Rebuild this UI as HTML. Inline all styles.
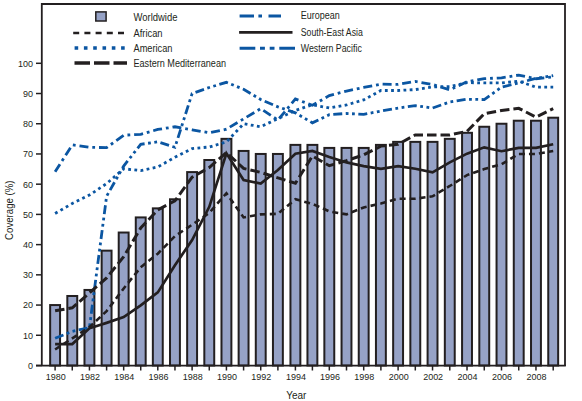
<!DOCTYPE html><html><head><meta charset="utf-8"><style>html,body{margin:0;padding:0;background:#fff;width:582px;height:401px;overflow:hidden}svg{display:block}text{font-family:"Liberation Sans",sans-serif;fill:#231f20}</style></head><body>
<svg width="582" height="401" viewBox="0 0 582 401">
<rect x="50.15" y="305.06" width="9.90" height="60.44" fill="#96a2c6" stroke="#231f20" stroke-width="2"/>
<rect x="67.32" y="295.99" width="9.90" height="69.51" fill="#96a2c6" stroke="#231f20" stroke-width="2"/>
<rect x="84.48" y="289.95" width="9.90" height="75.55" fill="#96a2c6" stroke="#231f20" stroke-width="2"/>
<rect x="101.65" y="250.66" width="9.90" height="114.84" fill="#96a2c6" stroke="#231f20" stroke-width="2"/>
<rect x="118.72" y="232.53" width="9.90" height="132.97" fill="#96a2c6" stroke="#231f20" stroke-width="2"/>
<rect x="135.78" y="217.42" width="9.90" height="148.08" fill="#96a2c6" stroke="#231f20" stroke-width="2"/>
<rect x="152.85" y="208.36" width="9.90" height="157.14" fill="#96a2c6" stroke="#231f20" stroke-width="2"/>
<rect x="170.01" y="199.29" width="9.90" height="166.21" fill="#96a2c6" stroke="#231f20" stroke-width="2"/>
<rect x="187.16" y="172.09" width="9.90" height="193.41" fill="#96a2c6" stroke="#231f20" stroke-width="2"/>
<rect x="204.32" y="160.00" width="9.90" height="205.50" fill="#96a2c6" stroke="#231f20" stroke-width="2"/>
<rect x="221.48" y="138.85" width="9.90" height="226.65" fill="#96a2c6" stroke="#231f20" stroke-width="2"/>
<rect x="238.64" y="150.94" width="9.90" height="214.56" fill="#96a2c6" stroke="#231f20" stroke-width="2"/>
<rect x="255.79" y="153.96" width="9.90" height="211.54" fill="#96a2c6" stroke="#231f20" stroke-width="2"/>
<rect x="272.95" y="153.96" width="9.90" height="211.54" fill="#96a2c6" stroke="#231f20" stroke-width="2"/>
<rect x="290.45" y="144.89" width="9.90" height="220.61" fill="#96a2c6" stroke="#231f20" stroke-width="2"/>
<rect x="307.45" y="144.89" width="9.90" height="220.61" fill="#96a2c6" stroke="#231f20" stroke-width="2"/>
<rect x="324.35" y="147.92" width="9.90" height="217.58" fill="#96a2c6" stroke="#231f20" stroke-width="2"/>
<rect x="341.55" y="147.92" width="9.90" height="217.58" fill="#96a2c6" stroke="#231f20" stroke-width="2"/>
<rect x="358.75" y="147.92" width="9.90" height="217.58" fill="#96a2c6" stroke="#231f20" stroke-width="2"/>
<rect x="375.95" y="144.89" width="9.90" height="220.61" fill="#96a2c6" stroke="#231f20" stroke-width="2"/>
<rect x="393.15" y="141.87" width="9.90" height="223.63" fill="#96a2c6" stroke="#231f20" stroke-width="2"/>
<rect x="410.35" y="141.87" width="9.90" height="223.63" fill="#96a2c6" stroke="#231f20" stroke-width="2"/>
<rect x="427.59" y="141.87" width="9.90" height="223.63" fill="#96a2c6" stroke="#231f20" stroke-width="2"/>
<rect x="444.83" y="138.85" width="9.90" height="226.65" fill="#96a2c6" stroke="#231f20" stroke-width="2"/>
<rect x="462.07" y="132.81" width="9.90" height="232.69" fill="#96a2c6" stroke="#231f20" stroke-width="2"/>
<rect x="479.31" y="126.76" width="9.90" height="238.74" fill="#96a2c6" stroke="#231f20" stroke-width="2"/>
<rect x="496.55" y="123.74" width="9.90" height="241.76" fill="#96a2c6" stroke="#231f20" stroke-width="2"/>
<rect x="513.78" y="120.72" width="9.90" height="244.78" fill="#96a2c6" stroke="#231f20" stroke-width="2"/>
<rect x="531.02" y="120.72" width="9.90" height="244.78" fill="#96a2c6" stroke="#231f20" stroke-width="2"/>
<rect x="548.25" y="117.70" width="9.90" height="247.80" fill="#96a2c6" stroke="#231f20" stroke-width="2"/>
<polyline points="55.10,213.49 72.27,203.52 89.43,195.06 106.60,183.58 123.67,168.77 140.73,170.58 157.80,166.95 174.96,157.28 192.11,148.52 209.27,147.01 226.43,141.87 243.59,123.74 260.74,126.76 277.90,118.60 295.40,110.44 312.40,104.70 329.30,108.03 346.50,105.00 363.70,99.87 380.90,90.50 398.10,90.50 415.30,89.59 432.54,86.87 449.78,86.57 467.02,82.64 484.26,82.94 501.50,82.94 518.73,81.13 535.97,87.17 553.20,87.17" fill="none" stroke="#0b56a2" stroke-width="2.8" stroke-dasharray="2.8 3.4" stroke-linejoin="miter"/>
<polyline points="55.10,171.79 72.27,144.89 89.43,147.31 106.60,147.61 123.67,135.22 140.73,134.32 157.80,129.48 174.96,126.76 192.11,129.78 209.27,132.81 226.43,129.18 243.59,118.90 260.74,108.63 277.90,120.11 295.40,98.96 312.40,105.31 329.30,95.64 346.50,91.10 363.70,87.48 380.90,84.15 398.10,84.45 415.30,81.43 432.54,84.45 449.78,89.89 467.02,81.73 484.26,78.71 501.50,77.81 518.73,75.09 535.97,78.71 553.20,76.90" fill="none" stroke="#0b56a2" stroke-width="2.8" stroke-dasharray="9 3.9 2.8 3.9" stroke-linejoin="miter"/>
<polyline points="55.10,338.30 72.27,331.35 89.43,327.73 106.60,196.27 123.67,166.05 140.73,144.29 157.80,141.87 174.96,147.31 192.11,93.52 209.27,87.48 226.43,82.34 243.59,89.29 260.74,99.56 277.90,106.82 295.40,112.86 312.40,122.83 329.30,114.67 346.50,113.47 363.70,114.37 380.90,111.05 398.10,108.03 415.30,105.61 432.54,108.03 449.78,101.98 467.02,99.26 484.26,99.56 501.50,87.17 518.73,82.94 535.97,78.41 553.20,75.69" fill="none" stroke="#0b56a2" stroke-width="2.8" stroke-dasharray="9 3.5 2.8 3.5 2.8 3.5" stroke-linejoin="miter"/>
<polyline points="55.10,349.48 72.27,338.30 89.43,327.12 106.60,311.10 123.67,288.44 140.73,267.29 157.80,253.69 174.96,236.16 192.11,224.67 209.27,212.89 226.43,193.25 243.59,217.42 260.74,214.40 277.90,213.80 295.40,199.29 312.40,203.82 329.30,211.38 346.50,214.40 363.70,207.45 380.90,203.52 398.10,198.69 415.30,198.69 432.54,196.27 449.78,185.99 467.02,175.11 484.26,169.07 501.50,164.23 518.73,153.96 535.97,153.96 553.20,150.94" fill="none" stroke="#231f20" stroke-width="2.6" stroke-dasharray="6 4" stroke-linejoin="miter"/>
<polyline points="55.10,310.80 72.27,307.78 89.43,292.97 106.60,277.86 123.67,256.71 140.73,228.00 157.80,209.87 174.96,200.80 192.11,177.23 209.27,167.56 226.43,152.45 243.59,168.47 260.74,172.39 277.90,177.83 295.40,183.27 312.40,156.08 329.30,165.75 346.50,160.61 363.70,154.87 380.90,146.10 398.10,144.29 415.30,134.92 432.54,134.92 449.78,134.92 467.02,131.30 484.26,113.77 501.50,110.44 518.73,108.33 535.97,117.09 553.20,108.63" fill="none" stroke="#231f20" stroke-width="3" stroke-dasharray="9.5 4" stroke-linejoin="miter"/>
<polyline points="55.10,344.04 72.27,344.04 89.43,328.33 106.60,322.89 123.67,317.15 140.73,305.36 157.80,292.37 174.96,265.17 192.11,240.09 209.27,206.84 226.43,153.36 243.59,179.95 260.74,183.58 277.90,169.98 295.40,153.66 312.40,150.94 329.30,156.98 346.50,162.42 363.70,166.05 380.90,168.77 398.10,166.05 415.30,168.77 432.54,172.39 449.78,162.42 467.02,153.66 484.26,147.31 501.50,151.24 518.73,147.92 535.97,147.92 553.20,144.29" fill="none" stroke="#231f20" stroke-width="2.7" stroke-linejoin="miter"/>
<path d="M41.8,366 L41.8,4 L565,4 L565,366" fill="none" stroke="#231f20" stroke-width="1.8"/>
<path d="M36,365.6 L565.8,365.6" stroke="#231f20" stroke-width="1.8"/>
<path d="M36,365.50 L42,365.50" stroke="#231f20" stroke-width="1.5"/>
<text x="33" y="368.90" font-size="9.6" text-anchor="end" textLength="5.0" lengthAdjust="spacingAndGlyphs">0</text>
<path d="M36,335.28 L42,335.28" stroke="#231f20" stroke-width="1.5"/>
<text x="33" y="338.68" font-size="9.6" text-anchor="end" textLength="10.0" lengthAdjust="spacingAndGlyphs">10</text>
<path d="M36,305.06 L42,305.06" stroke="#231f20" stroke-width="1.5"/>
<text x="33" y="308.46" font-size="9.6" text-anchor="end" textLength="10.0" lengthAdjust="spacingAndGlyphs">20</text>
<path d="M36,274.84 L42,274.84" stroke="#231f20" stroke-width="1.5"/>
<text x="33" y="278.24" font-size="9.6" text-anchor="end" textLength="10.0" lengthAdjust="spacingAndGlyphs">30</text>
<path d="M36,244.62 L42,244.62" stroke="#231f20" stroke-width="1.5"/>
<text x="33" y="248.02" font-size="9.6" text-anchor="end" textLength="10.0" lengthAdjust="spacingAndGlyphs">40</text>
<path d="M36,214.40 L42,214.40" stroke="#231f20" stroke-width="1.5"/>
<text x="33" y="217.80" font-size="9.6" text-anchor="end" textLength="10.0" lengthAdjust="spacingAndGlyphs">50</text>
<path d="M36,184.18 L42,184.18" stroke="#231f20" stroke-width="1.5"/>
<text x="33" y="187.58" font-size="9.6" text-anchor="end" textLength="10.0" lengthAdjust="spacingAndGlyphs">60</text>
<path d="M36,153.96 L42,153.96" stroke="#231f20" stroke-width="1.5"/>
<text x="33" y="157.36" font-size="9.6" text-anchor="end" textLength="10.0" lengthAdjust="spacingAndGlyphs">70</text>
<path d="M36,123.74 L42,123.74" stroke="#231f20" stroke-width="1.5"/>
<text x="33" y="127.14" font-size="9.6" text-anchor="end" textLength="10.0" lengthAdjust="spacingAndGlyphs">80</text>
<path d="M36,93.52 L42,93.52" stroke="#231f20" stroke-width="1.5"/>
<text x="33" y="96.92" font-size="9.6" text-anchor="end" textLength="10.0" lengthAdjust="spacingAndGlyphs">90</text>
<path d="M36,63.30 L42,63.30" stroke="#231f20" stroke-width="1.5"/>
<text x="33" y="66.70" font-size="9.6" text-anchor="end" textLength="15.0" lengthAdjust="spacingAndGlyphs">100</text>
<path d="M55.10,366 L55.10,370.5" stroke="#231f20" stroke-width="1.5"/>
<text x="55.70" y="380.3" font-size="9.6" text-anchor="middle" textLength="20" lengthAdjust="spacingAndGlyphs">1980</text>
<path d="M72.27,366 L72.27,370.5" stroke="#231f20" stroke-width="1.5"/>
<path d="M89.43,366 L89.43,370.5" stroke="#231f20" stroke-width="1.5"/>
<text x="90.03" y="380.3" font-size="9.6" text-anchor="middle" textLength="20" lengthAdjust="spacingAndGlyphs">1982</text>
<path d="M106.60,366 L106.60,370.5" stroke="#231f20" stroke-width="1.5"/>
<path d="M123.67,366 L123.67,370.5" stroke="#231f20" stroke-width="1.5"/>
<text x="124.27" y="380.3" font-size="9.6" text-anchor="middle" textLength="20" lengthAdjust="spacingAndGlyphs">1984</text>
<path d="M140.73,366 L140.73,370.5" stroke="#231f20" stroke-width="1.5"/>
<path d="M157.80,366 L157.80,370.5" stroke="#231f20" stroke-width="1.5"/>
<text x="158.40" y="380.3" font-size="9.6" text-anchor="middle" textLength="20" lengthAdjust="spacingAndGlyphs">1986</text>
<path d="M174.96,366 L174.96,370.5" stroke="#231f20" stroke-width="1.5"/>
<path d="M192.11,366 L192.11,370.5" stroke="#231f20" stroke-width="1.5"/>
<text x="192.71" y="380.3" font-size="9.6" text-anchor="middle" textLength="20" lengthAdjust="spacingAndGlyphs">1988</text>
<path d="M209.27,366 L209.27,370.5" stroke="#231f20" stroke-width="1.5"/>
<path d="M226.43,366 L226.43,370.5" stroke="#231f20" stroke-width="1.5"/>
<text x="227.03" y="380.3" font-size="9.6" text-anchor="middle" textLength="20" lengthAdjust="spacingAndGlyphs">1990</text>
<path d="M243.59,366 L243.59,370.5" stroke="#231f20" stroke-width="1.5"/>
<path d="M260.74,366 L260.74,370.5" stroke="#231f20" stroke-width="1.5"/>
<text x="261.34" y="380.3" font-size="9.6" text-anchor="middle" textLength="20" lengthAdjust="spacingAndGlyphs">1992</text>
<path d="M277.90,366 L277.90,370.5" stroke="#231f20" stroke-width="1.5"/>
<path d="M295.40,366 L295.40,370.5" stroke="#231f20" stroke-width="1.5"/>
<text x="296.00" y="380.3" font-size="9.6" text-anchor="middle" textLength="20" lengthAdjust="spacingAndGlyphs">1994</text>
<path d="M312.40,366 L312.40,370.5" stroke="#231f20" stroke-width="1.5"/>
<path d="M329.30,366 L329.30,370.5" stroke="#231f20" stroke-width="1.5"/>
<text x="329.90" y="380.3" font-size="9.6" text-anchor="middle" textLength="20" lengthAdjust="spacingAndGlyphs">1996</text>
<path d="M346.50,366 L346.50,370.5" stroke="#231f20" stroke-width="1.5"/>
<path d="M363.70,366 L363.70,370.5" stroke="#231f20" stroke-width="1.5"/>
<text x="364.30" y="380.3" font-size="9.6" text-anchor="middle" textLength="20" lengthAdjust="spacingAndGlyphs">1998</text>
<path d="M380.90,366 L380.90,370.5" stroke="#231f20" stroke-width="1.5"/>
<path d="M398.10,366 L398.10,370.5" stroke="#231f20" stroke-width="1.5"/>
<text x="398.70" y="380.3" font-size="9.6" text-anchor="middle" textLength="20" lengthAdjust="spacingAndGlyphs">2000</text>
<path d="M415.30,366 L415.30,370.5" stroke="#231f20" stroke-width="1.5"/>
<path d="M432.54,366 L432.54,370.5" stroke="#231f20" stroke-width="1.5"/>
<text x="433.14" y="380.3" font-size="9.6" text-anchor="middle" textLength="20" lengthAdjust="spacingAndGlyphs">2002</text>
<path d="M449.78,366 L449.78,370.5" stroke="#231f20" stroke-width="1.5"/>
<path d="M467.02,366 L467.02,370.5" stroke="#231f20" stroke-width="1.5"/>
<text x="467.62" y="380.3" font-size="9.6" text-anchor="middle" textLength="20" lengthAdjust="spacingAndGlyphs">2004</text>
<path d="M484.26,366 L484.26,370.5" stroke="#231f20" stroke-width="1.5"/>
<path d="M501.50,366 L501.50,370.5" stroke="#231f20" stroke-width="1.5"/>
<text x="502.10" y="380.3" font-size="9.6" text-anchor="middle" textLength="20" lengthAdjust="spacingAndGlyphs">2006</text>
<path d="M518.73,366 L518.73,370.5" stroke="#231f20" stroke-width="1.5"/>
<path d="M535.97,366 L535.97,370.5" stroke="#231f20" stroke-width="1.5"/>
<text x="536.57" y="380.3" font-size="9.6" text-anchor="middle" textLength="20" lengthAdjust="spacingAndGlyphs">2008</text>
<path d="M553.20,366 L553.20,370.5" stroke="#231f20" stroke-width="1.5"/>
<text x="296.3" y="399.2" font-size="10" text-anchor="middle">Year</text>
<text transform="translate(13.2,210.2) rotate(-90)" x="0" y="0" font-size="10" text-anchor="middle" textLength="59.5" lengthAdjust="spacingAndGlyphs">Coverage (%)</text>
<rect x="95.8" y="11.9" width="10.3" height="9.1" fill="#96a2c6" stroke="#231f20" stroke-width="1.5"/>
<path d="M73.2,33 L124.5,33" stroke="#231f20" stroke-width="2.6" stroke-dasharray="6 5.2"/>
<path d="M74.6,48 L125.5,48" stroke="#0b56a2" stroke-width="3.4" stroke-dasharray="3.6 5.7"/>
<path d="M74.5,63 L127,63" stroke="#231f20" stroke-width="3.4" stroke-dasharray="15.5 4"/>
<path d="M239.6,15.9 L281,15.9" stroke="#0b56a2" stroke-width="3" stroke-dasharray="14.4 4.4 3.6 6.5"/>
<path d="M239.1,32.4 L292.5,32.4" stroke="#231f20" stroke-width="2.8"/>
<path d="M239.6,48.3 L295,48.3" stroke="#0b56a2" stroke-width="3" stroke-dasharray="15.7 4.7 4.9 4.8 4.8 4.8"/>
<text x="133.5" y="21.0" font-size="10" textLength="44.0" lengthAdjust="spacingAndGlyphs">Worldwide</text>
<text x="133.5" y="36.8" font-size="10" textLength="29.0" lengthAdjust="spacingAndGlyphs">African</text>
<text x="133.5" y="52.3" font-size="10" textLength="39.0" lengthAdjust="spacingAndGlyphs">American</text>
<text x="133.5" y="67.0" font-size="10" textLength="92.5" lengthAdjust="spacingAndGlyphs">Eastern Mediterranean</text>
<text x="300.8" y="19.2" font-size="10" textLength="39.0" lengthAdjust="spacingAndGlyphs">European</text>
<text x="300.8" y="35.5" font-size="10" textLength="62.0" lengthAdjust="spacingAndGlyphs">South-East Asia</text>
<text x="300.8" y="51.5" font-size="10" textLength="61.0" lengthAdjust="spacingAndGlyphs">Western Pacific</text>
</svg></body></html>
